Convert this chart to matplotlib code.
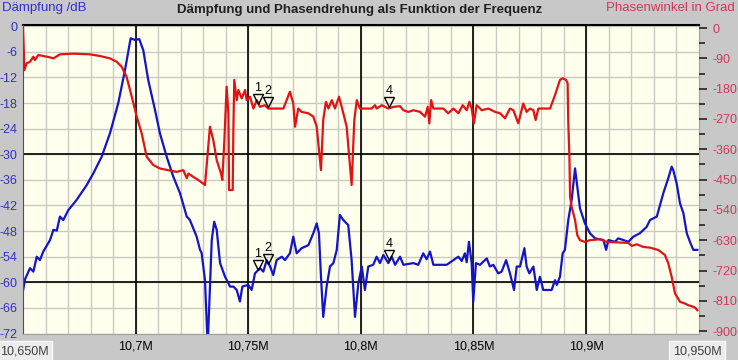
import matplotlib
matplotlib.use("Agg")
import matplotlib.pyplot as plt
import matplotlib.transforms as mtransforms

plt.rcParams['font.family'] = ['Liberation Sans', 'DejaVu Sans']

# attenuation (blue, left axis, dB)
damp_f = [10.6500, 10.6509, 10.6531, 10.6546, 10.6561, 10.6575, 10.6590, 10.6620, 10.6635, 10.6650,
          10.6664, 10.6679, 10.6701, 10.6738, 10.6783, 10.6812, 10.6849, 10.6886, 10.6923, 10.6953,
          10.6978, 10.6997, 10.7016, 10.7034, 10.7056, 10.7086, 10.7108, 10.7138, 10.7167, 10.7197,
          10.7227, 10.7241, 10.7271, 10.7286, 10.7293, 10.7308, 10.7320, 10.7330, 10.7338, 10.7349,
          10.7360, 10.7375, 10.7397, 10.7412, 10.7419, 10.7434, 10.7449, 10.7463, 10.7474, 10.7500,
          10.7515, 10.7530, 10.7552, 10.7567, 10.7582, 10.7597, 10.7611, 10.7626, 10.7649, 10.7663,
          10.7685, 10.7700, 10.7715, 10.7737, 10.7767, 10.7789, 10.7804, 10.7814, 10.7823, 10.7833,
          10.7848, 10.7863, 10.7878, 10.7893, 10.7907, 10.7922, 10.7944, 10.7959, 10.7974, 10.7989,
          10.8004, 10.8018, 10.8033, 10.8055, 10.8070, 10.8085, 10.8100, 10.8122, 10.8137, 10.8152,
          10.8174, 10.8189, 10.8233, 10.8255, 10.8277, 10.8292, 10.8307, 10.8322, 10.8381, 10.8433,
          10.8448, 10.8462, 10.8470, 10.8480, 10.8492, 10.8499, 10.8511, 10.8529, 10.8559, 10.8573,
          10.8588, 10.8610, 10.8625, 10.8645, 10.8662, 10.8680, 10.8692, 10.8707, 10.8726, 10.8736,
          10.8748, 10.8766, 10.8781, 10.8795, 10.8810, 10.8847, 10.8862, 10.8870, 10.8884, 10.8896,
          10.8906, 10.8921, 10.8936, 10.8951, 10.8961, 10.8973, 10.8995, 10.9017, 10.9040, 10.9077,
          10.9089, 10.9099, 10.9128, 10.9143, 10.9188, 10.9210, 10.9239, 10.9269, 10.9284, 10.9314,
          10.9343, 10.9365, 10.9380, 10.9387, 10.9402, 10.9417, 10.9432, 10.9447, 10.9461, 10.9476,
          10.9494]
damp_db = [-62.0, -59.3, -56.7, -57.5, -54.0, -54.8, -52.8, -50.1, -47.7, -47.9,
           -44.6, -45.4, -43.1, -40.7, -37.2, -34.5, -30.6, -25.1, -18.0, -10.2,
           -2.8, -3.2, -3.0, -5.6, -12.6, -19.6, -25.1, -30.6, -35.2, -39.1,
           -44.6, -45.4, -49.3, -52.4, -53.1, -59.5, -75.0, -61.0, -50.1, -45.8,
           -47.7, -55.5, -58.7, -60.2, -61.0, -61.0, -61.8, -64.5, -61.0, -60.6,
           -61.8, -57.9, -56.7, -57.5, -54.8, -56.3, -58.3, -54.8, -54.0, -54.8,
           -53.2, -49.3, -53.2, -52.0, -51.3, -48.5, -46.2, -48.5, -58.7, -68.1,
           -61.0, -56.3, -55.5, -52.4, -44.2, -45.4, -46.6, -54.8, -68.1, -60.2,
           -56.3, -61.8, -56.3, -55.9, -54.0, -55.5, -53.6, -55.5, -54.0, -55.9,
           -54.0, -55.9, -55.5, -55.9, -53.2, -54.6, -52.8, -55.9, -55.9, -54.0,
           -55.0, -53.2, -55.3, -50.5, -55.5, -64.5, -55.5, -55.9, -54.4, -56.3,
           -55.9, -57.9, -57.5, -54.8, -57.9, -61.8, -56.3, -56.3, -52.0, -56.3,
           -57.9, -56.3, -61.8, -58.7, -61.8, -61.8, -59.5, -60.6, -58.7, -53.2,
           -52.4, -45.4, -40.7, -33.3, -37.6, -42.7, -46.2, -48.5, -49.7, -50.1,
           -52.4, -50.1, -50.5, -49.7, -50.5, -49.3, -48.5, -47.0, -45.4, -44.6,
           -39.1, -35.6, -32.9, -33.7, -36.8, -41.5, -43.8, -48.5, -50.5, -52.4,
           -52.4]

# phase (red, right axis, degrees)
phase_f = [10.6500, 10.6503, 10.6506, 10.6516, 10.6531, 10.6546, 10.6553, 10.6568, 10.6590, 10.6620,
           10.6635, 10.6664, 10.6723, 10.6797, 10.6842, 10.6886, 10.6916, 10.6938, 10.6960, 10.6983,
           10.7005, 10.7027, 10.7049, 10.7079, 10.7108, 10.7145, 10.7182, 10.7212, 10.7227, 10.7234,
           10.7256, 10.7278, 10.7308, 10.7320, 10.7330, 10.7345, 10.7360, 10.7379, 10.7385, 10.7394,
           10.7404, 10.7412, 10.7415, 10.7431, 10.7434, 10.7438, 10.7449, 10.7456, 10.7471, 10.7486,
           10.7493, 10.7508, 10.7523, 10.7538, 10.7552, 10.7574, 10.7589, 10.7656, 10.7685, 10.7700,
           10.7708, 10.7722, 10.7737, 10.7767, 10.7789, 10.7804, 10.7823, 10.7833, 10.7845, 10.7856,
           10.7871, 10.7885, 10.7903, 10.7915, 10.7937, 10.7959, 10.7971, 10.7982, 10.7996, 10.8048,
           10.8063, 10.8070, 10.8093, 10.8122, 10.8144, 10.8174, 10.8189, 10.8211, 10.8233, 10.8263,
           10.8285, 10.8297, 10.8304, 10.8312, 10.8322, 10.8366, 10.8388, 10.8411, 10.8433, 10.8452,
           10.8470, 10.8482, 10.8492, 10.8502, 10.8514, 10.8537, 10.8566, 10.8596, 10.8618, 10.8640,
           10.8662, 10.8677, 10.8699, 10.8721, 10.8736, 10.8751, 10.8766, 10.8776, 10.8788, 10.8840,
           10.8862, 10.8884, 10.8896, 10.8911, 10.8918, 10.8921, 10.8926, 10.8929, 10.8936, 10.8951,
           10.8961, 10.8973, 10.8995, 10.9017, 10.9062, 10.9092, 10.9188, 10.9203, 10.9225, 10.9254,
           10.9284, 10.9321, 10.9350, 10.9365, 10.9380, 10.9395, 10.9417, 10.9439, 10.9454, 10.9469,
           10.9484, 10.9494]
phase_deg = [5, -55, -125, -105, -100, -85, -95, -80, -83, -87,
             -90, -78, -76, -78, -83, -90, -100, -115, -145, -204,
             -263, -313, -382, -407, -417, -422, -427, -422, -446, -432,
             -442, -451, -466, -372, -293, -333, -392, -432, -451, -333,
             -174, -253, -481, -481, -303, -154, -214, -184, -209, -184,
             -214, -204, -239, -214, -234, -229, -239, -239, -189, -224,
             -293, -239, -249, -253, -263, -293, -422, -273, -219, -239,
             -214, -239, -204, -234, -293, -466, -273, -214, -239, -239,
             -229, -239, -229, -239, -234, -232, -244, -249, -244, -249,
             -263, -234, -283, -214, -239, -239, -253, -239, -253, -229,
             -244, -219, -239, -283, -229, -244, -239, -249, -253, -268,
             -239, -244, -283, -224, -249, -239, -244, -273, -239, -239,
             -199, -154, -149, -154, -164, -283, -382, -501, -531, -570,
             -615, -630, -635, -630, -627, -635, -638, -647, -642, -650,
             -652, -659, -674, -699, -739, -788, -813, -818, -823, -826,
             -830, -838]

# markers
marker_names = ['1', '2', '4']
marker_f = [10.7543, 10.7589, 10.8125]
marker_db = [-56.9, -55.5, -54.6]
marker_deg = [-222, -232, -232]

xtick_vals = [10.70, 10.75, 10.80, 10.85, 10.90]
xtick_labels = ['10,7M', '10,75M', '10,8M', '10,85M', '10,9M']
db_ticks = list(range(0, -73, -6))
deg_ticks = list(range(0, -901, -90))

BLUE = '#1414C8'
RED = '#E01414'
BLUE_TXT = '#3232C0'
RED_TXT = '#D0385A'
GRID = '#CACAC0'

fig = plt.figure(figsize=(7.38, 3.6), dpi=100, facecolor='#C8C8C8')
ax = fig.add_axes([23 / 738, 26.5 / 360, 675.7 / 738, 308.8 / 360])
ax.set_facecolor('#FFFFEE')
ax.set_xlim(10.65, 10.95)
ax.set_ylim(-72, 0.37)

# grid
for f in [10.65 + 0.01 * i for i in range(1, 30)]:
    ax.axvline(f, color=GRID, lw=1.0, zorder=0)
for d in db_ticks:
    ax.axhline(d, color=GRID, lw=1.0, zorder=0)
for f in xtick_vals:
    ax.axvline(f, color='black', lw=1.2, zorder=0.5)
for d in [-30, -60]:
    ax.axhline(d, color='black', lw=1.2, zorder=0.5)

ax.plot(damp_f, damp_db, color=BLUE, lw=1.6, zorder=2)

ax.set_xticks(xtick_vals, xtick_labels)
ax.set_yticks(db_ticks, [str(d) for d in db_ticks])
ax.tick_params(axis='x', length=0, pad=5, labelsize=9, labelcolor='black')
ax.tick_params(axis='y', length=0, pad=4, labelsize=9, labelcolor=BLUE_TXT)
for s in ['bottom', 'right']:
    ax.spines[s].set_color('#A0A0A0')
ax.spines['top'].set_color('black')
ax.spines['top'].set_linewidth(1.5)
ax.spines['left'].set_color('#505050')

ax2 = ax.twinx()
ax2.set_ylim(-907, 10)
ax2.plot(phase_f, phase_deg, color=RED, lw=1.6, zorder=3)
ax2.set_yticks(deg_ticks, [str(d) for d in deg_ticks])
ax2.set_yticks(list(range(-45, -900, -90)), minor=True)
ax2.tick_params(axis='y', which='major', length=6, width=1.3, pad=4, labelsize=9,
                labelcolor=RED_TXT, color='#303030')
ax2.tick_params(axis='y', which='minor', length=4.5, width=1.3, color='#303030')
for s in ax2.spines.values():
    s.set_visible(False)

# markers with numbers
for name, f, d, p in zip(marker_names, marker_f, marker_db, marker_deg):
    for a, v in [(ax, d), (ax2, p)]:
        tri = mtransforms.offset_copy(a.transData, fig=fig, y=3, units='points')
        a.plot([f], [v], marker='v', ms=6.5, mfc='none', mec='black', mew=1.0,
               transform=tri, zorder=5)
        txt = mtransforms.offset_copy(a.transData, fig=fig, y=11, units='points')
        a.text(f, v, name, transform=txt, ha='center', va='center', fontsize=9,
               color='black', zorder=5)

fig.text(360 / 738, 1 - 10 / 360, 'Dämpfung und Phasendrehung als Funktion der Frequenz',
         ha='center', va='center', fontsize=9.5, fontweight='bold', color='#202020')
fig.text(2 / 738, 1 - 8 / 360, 'Dämpfung /dB', ha='left', va='center', fontsize=9.5,
         color=BLUE_TXT)
fig.text(735 / 738, 1 - 8 / 360, 'Phasenwinkel in Grad', ha='right', va='center',
         fontsize=9.5, color=RED_TXT)

# range boxes in the bottom corners
fig.text(24 / 738, 1 - 351 / 360, '10,650M', ha='center', va='center', fontsize=9,
         color='#404040',
         bbox=dict(boxstyle='square,pad=0.3', fc='#ECECEC', ec='#F8F8F8', lw=1))
fig.text(697 / 738, 1 - 351 / 360, '10,950M', ha='center', va='center', fontsize=9,
         color='#404040',
         bbox=dict(boxstyle='square,pad=0.3', fc='#ECECEC', ec='#F8F8F8', lw=1))

fig.savefig('out.png', dpi=100, facecolor=fig.get_facecolor())
